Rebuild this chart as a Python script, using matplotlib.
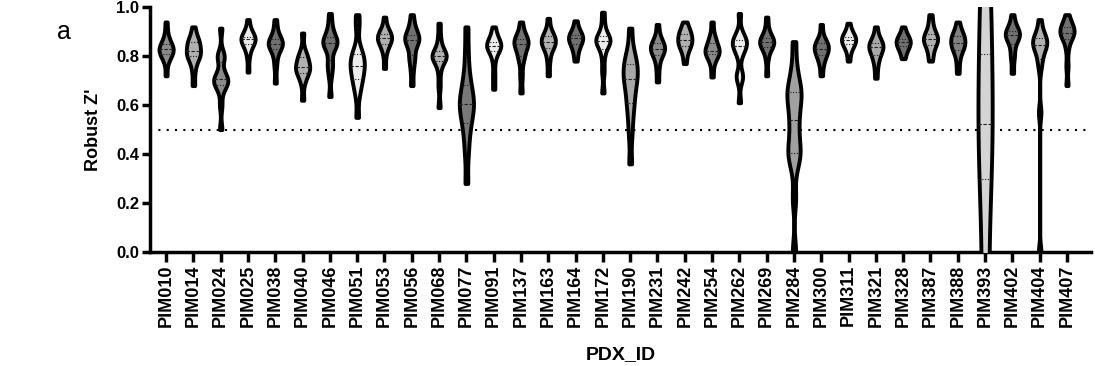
import numpy as np
import matplotlib.pyplot as plt
from matplotlib.ticker import FormatStrFormatter

plt.rcParams['font.family'] = ['Liberation Sans', 'DejaVu Sans']

# ------------------------------------------------------------------
#  Robust Z' per plate, grouped by PDX model
# ------------------------------------------------------------------
pdx_ids = ['PIM010', 'PIM014', 'PIM024', 'PIM025', 'PIM038', 'PIM040', 'PIM046',
           'PIM051', 'PIM053', 'PIM056', 'PIM068', 'PIM077', 'PIM091', 'PIM137',
           'PIM163', 'PIM164', 'PIM172', 'PIM190', 'PIM231', 'PIM242', 'PIM254',
           'PIM262', 'PIM269', 'PIM284', 'PIM300', 'PIM311', 'PIM321', 'PIM328',
           'PIM387', 'PIM388', 'PIM393', 'PIM402', 'PIM404', 'PIM407']

z_pim010 = [0.72, 0.78, 0.80, 0.81, 0.82, 0.82, 0.83, 0.83, 0.84, 0.85, 0.86, 0.89, 0.94]
z_pim014 = [0.68, 0.74, 0.78, 0.80, 0.80, 0.81, 0.82, 0.83, 0.85, 0.86, 0.86, 0.88, 0.92]
z_pim024 = [0.50, 0.60, 0.66, 0.68, 0.69, 0.70, 0.70, 0.71, 0.72, 0.74, 0.79, 0.80, 0.81, 0.915]
z_pim025 = [0.735, 0.80, 0.83, 0.85, 0.86, 0.865, 0.87, 0.87, 0.875, 0.88, 0.89, 0.91, 0.95]
z_pim038 = [0.69, 0.76, 0.80, 0.83, 0.84, 0.845, 0.85, 0.855, 0.86, 0.87, 0.88, 0.91, 0.95]
z_pim040 = [0.62, 0.69, 0.72, 0.73, 0.745, 0.75, 0.755, 0.76, 0.78, 0.795, 0.80, 0.82, 0.895]
z_pim046 = [0.635, 0.72, 0.76, 0.775, 0.82, 0.84, 0.85, 0.855, 0.86, 0.87, 0.88, 0.90, 0.93, 0.975]
z_pim051 = [0.55, 0.64, 0.68, 0.70, 0.72, 0.74, 0.76, 0.76, 0.78, 0.80, 0.81, 0.83, 0.92, 0.97]
z_pim053 = [0.75, 0.81, 0.84, 0.855, 0.865, 0.87, 0.875, 0.88, 0.89, 0.90, 0.91, 0.96]
z_pim056 = [0.68, 0.74, 0.785, 0.795, 0.83, 0.85, 0.86, 0.87, 0.875, 0.88, 0.89, 0.91, 0.93, 0.97]
z_pim068 = [0.59, 0.68, 0.74, 0.78, 0.79, 0.795, 0.80, 0.80, 0.81, 0.82, 0.84, 0.88, 0.935]
z_pim077 = [0.28, 0.40, 0.47, 0.52, 0.55, 0.58, 0.60, 0.61, 0.63, 0.66, 0.69, 0.74, 0.82, 0.92]
z_pim091 = [0.665, 0.72, 0.78, 0.82, 0.83, 0.835, 0.84, 0.845, 0.85, 0.86, 0.87, 0.89, 0.92]
z_pim137 = [0.65, 0.72, 0.78, 0.80, 0.82, 0.84, 0.85, 0.855, 0.86, 0.87, 0.88, 0.90, 0.94]
z_pim163 = [0.72, 0.78, 0.82, 0.84, 0.85, 0.855, 0.86, 0.865, 0.88, 0.89, 0.90, 0.955]
z_pim164 = [0.78, 0.82, 0.845, 0.86, 0.87, 0.875, 0.88, 0.89, 0.90, 0.945]
z_pim172 = [0.65, 0.74, 0.80, 0.84, 0.85, 0.86, 0.865, 0.87, 0.88, 0.89, 0.93, 0.98]
z_pim190 = [0.36, 0.48, 0.55, 0.60, 0.63, 0.67, 0.70, 0.71, 0.73, 0.76, 0.77, 0.79, 0.83, 0.915]
z_pim231 = [0.695, 0.75, 0.79, 0.81, 0.82, 0.83, 0.83, 0.84, 0.85, 0.86, 0.88, 0.93]
z_pim242 = [0.77, 0.81, 0.84, 0.845, 0.85, 0.86, 0.87, 0.885, 0.89, 0.90, 0.91, 0.94]
z_pim254 = [0.715, 0.77, 0.80, 0.81, 0.815, 0.82, 0.825, 0.83, 0.85, 0.87, 0.88, 0.94]
z_pim262 = [0.61, 0.70, 0.72, 0.73, 0.80, 0.82, 0.84, 0.845, 0.85, 0.86, 0.87, 0.88, 0.90, 0.975]
z_pim269 = [0.72, 0.79, 0.83, 0.84, 0.85, 0.855, 0.86, 0.865, 0.87, 0.88, 0.91, 0.96]
z_pim284 = [0.0, 0.22, 0.35, 0.39, 0.41, 0.43, 0.48, 0.52, 0.56, 0.60, 0.63, 0.65, 0.67, 0.70, 0.76, 0.86]
z_pim300 = [0.72, 0.77, 0.79, 0.81, 0.82, 0.83, 0.83, 0.84, 0.85, 0.86, 0.87, 0.93]
z_pim311 = [0.78, 0.83, 0.845, 0.86, 0.865, 0.87, 0.875, 0.88, 0.89, 0.935]
z_pim321 = [0.71, 0.76, 0.79, 0.81, 0.82, 0.835, 0.84, 0.845, 0.85, 0.86, 0.875, 0.92]
z_pim328 = [0.79, 0.82, 0.84, 0.85, 0.855, 0.86, 0.865, 0.87, 0.88, 0.92]
z_pim387 = [0.78, 0.81, 0.84, 0.855, 0.865, 0.87, 0.875, 0.885, 0.90, 0.93, 0.97]
z_pim388 = [0.73, 0.78, 0.82, 0.83, 0.84, 0.85, 0.86, 0.87, 0.88, 0.89, 0.90, 0.94]
z_pim393 = [-0.25, 0.30, 0.525, 0.81, 1.15]
z_pim402 = [0.73, 0.79, 0.82, 0.86, 0.87, 0.88, 0.89, 0.895, 0.90, 0.91, 0.93, 0.97]
z_pim404 = [0.0, 0.57, 0.76, 0.80, 0.83, 0.84, 0.85, 0.86, 0.87, 0.88, 0.90, 0.95]
z_pim407 = [0.68, 0.76, 0.83, 0.87, 0.88, 0.89, 0.895, 0.90, 0.91, 0.92, 0.93, 0.94, 0.97]

robust_z = [z_pim010, z_pim014, z_pim024, z_pim025, z_pim038, z_pim040, z_pim046,
            z_pim051, z_pim053, z_pim056, z_pim068, z_pim077, z_pim091, z_pim137,
            z_pim163, z_pim164, z_pim172, z_pim190, z_pim231, z_pim242, z_pim254,
            z_pim262, z_pim269, z_pim284, z_pim300, z_pim311, z_pim321, z_pim328,
            z_pim387, z_pim388, z_pim393, z_pim402, z_pim404, z_pim407]

# fill shades as in the original (grey levels per model)
fill_colors = ['#8a8a8a', '#b0b0b0', '#8a8a8a', '#ebebeb', '#707070', '#b0b0b0', '#707070',
               '#ededed', '#b0b0b0', '#707070', '#b0b0b0', '#787878', '#ededed', '#707070',
               '#b0b0b0', '#707070', '#ededed', '#a8a8a8', '#8a8a8a', '#b0b0b0', '#8a8a8a',
               '#ededed', '#707070', '#a0a0a0', '#707070', '#ededed', '#a8a8a8', '#707070',
               '#b0b0b0', '#808080', '#d4d4d4', '#707070', '#b0b0b0', '#707070']

# kernel bandwidth (absolute, in Z' units); wider for the spread-out models
bandwidth = {'PIM393': 0.28, 'PIM077': 0.05, 'PIM190': 0.045, 'PIM284': 0.05,
             'PIM051': 0.035, 'PIM404': 0.03}
default_bw = 0.026

# ------------------------------------------------------------------
fig = plt.figure(figsize=(10.95, 3.66), dpi=100)
ax = fig.add_axes([150 / 1095, 1 - 252 / 366, (1091 - 150) / 1095, (252 - 7.3) / 366])

ax.axhline(0.5, color='black', lw=1.5, ls=(0, (1, 3)), zorder=1)

for i, (pdx, vals, col) in enumerate(zip(pdx_ids, robust_z, fill_colors)):
    bw = bandwidth.get(pdx, default_bw)
    parts = ax.violinplot([vals], positions=[i], widths=0.52, showextrema=False,
                          points=400, bw_method=lambda k, b=bw: b / k.dataset.std(ddof=1))
    body = parts['bodies'][0]
    body.set_facecolor(col)
    body.set_edgecolor('black')
    body.set_linewidth(2.8)
    body.set_alpha(1)
    body.set_zorder(3)

    # median (dashed) and quartiles (dotted), spanning the violin width
    verts = body.get_paths()[0].vertices
    right = verts[verts[:, 0] >= i]
    order = np.argsort(right[:, 1])
    q1, med, q3 = np.percentile(vals, [25, 50, 75])
    for q, style in [(q1, (0, (1, 1.5))), (med, (0, (3, 1.5))), (q3, (0, (1, 1.5)))]:
        hw = np.interp(q, right[order, 1], right[order, 0]) - i
        ax.plot([i - hw, i + hw], [q, q], color='#202020', lw=0.8, ls=style, zorder=4)

ax.set_xlim(-0.59, 33.88)
ax.set_ylim(0, 1.0)
ax.set_xticks(range(len(pdx_ids)))
ax.set_xticklabels(pdx_ids, rotation=90, fontsize=13, fontweight='bold')
ax.set_yticks(np.arange(0, 1.01, 0.2))
ax.yaxis.set_major_formatter(FormatStrFormatter('%.1f'))
for lab in ax.get_yticklabels():
    lab.set_fontweight('bold')
    lab.set_fontsize(12)

for side in ['top', 'right']:
    ax.spines[side].set_visible(False)
for side in ['left', 'bottom']:
    ax.spines[side].set_linewidth(2.5)
ax.tick_params(axis='y', width=2.5, length=6, pad=2)
ax.tick_params(axis='x', width=2.5, length=7, pad=2)

ax.set_ylabel("Robust Z'", fontsize=13, fontweight='bold', labelpad=10)
ax.set_xlabel('PDX_ID', fontsize=14, fontweight='bold', labelpad=14)

fig.text(57 / 1095, 1 - 39 / 366, 'a', fontsize=18)

fig.savefig('out.png', dpi=100)
